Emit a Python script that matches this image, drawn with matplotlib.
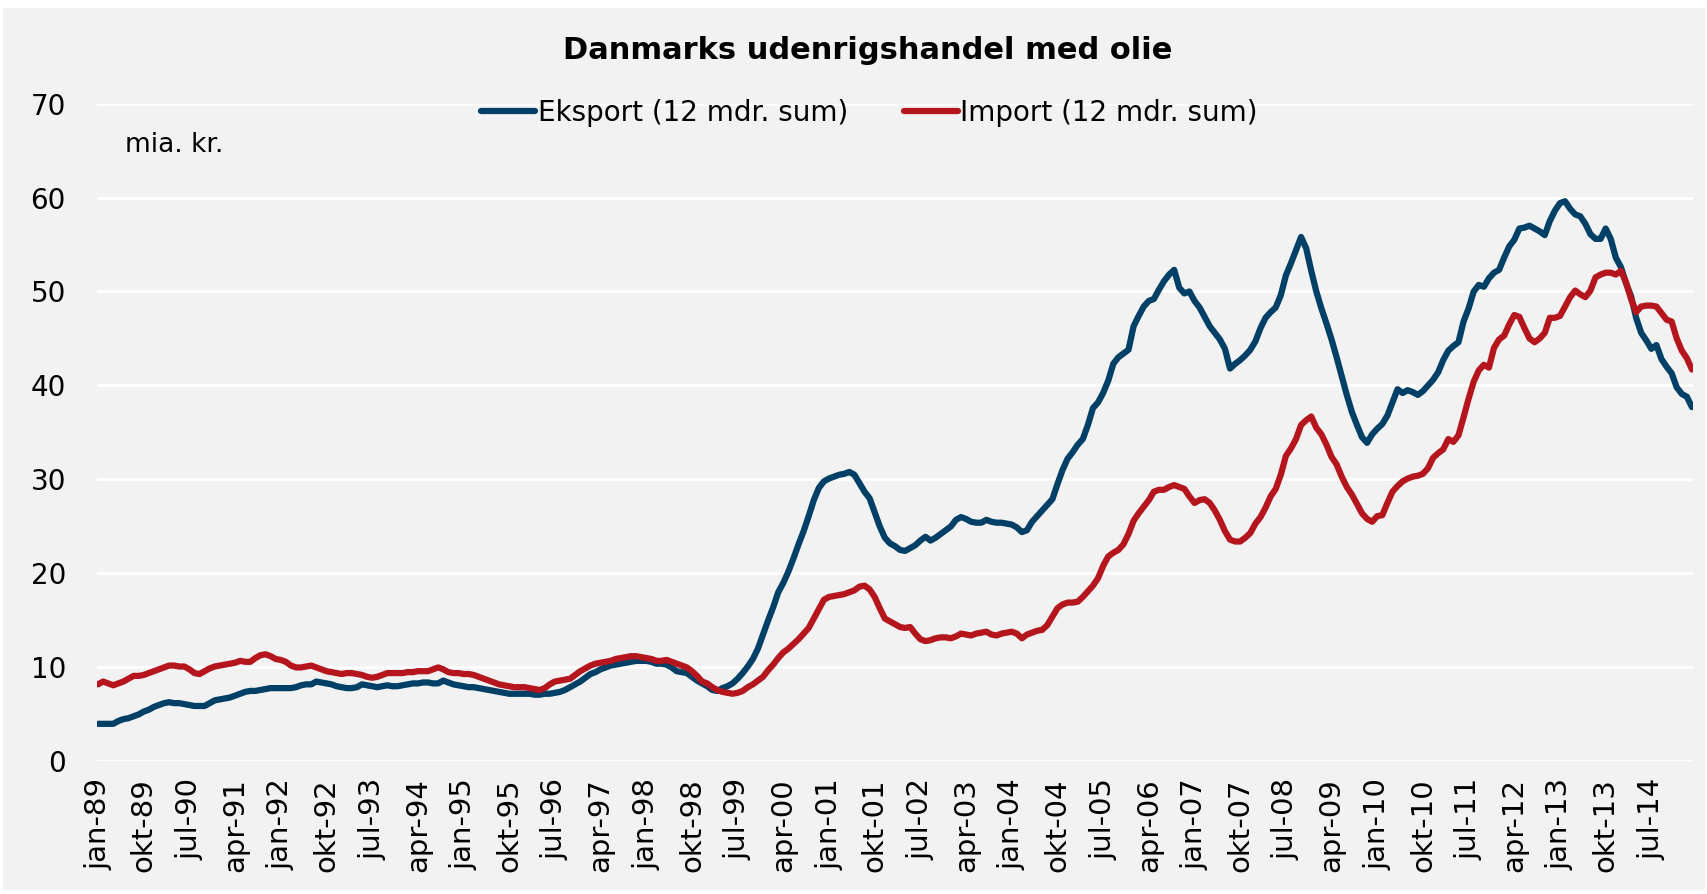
import numpy as np
import pandas as pd
import matplotlib.pyplot as plt
from matplotlib.patches import Rectangle

# 12 mdr. sum, mia. kr., monthly from jan-89
eksport = [
    4.0, 4.0, 4.0, 4.0, 4.3, 4.5, 4.6, 4.8, 5.0, 5.3, 5.5, 5.8,
    6.0, 6.2, 6.3, 6.2, 6.2, 6.1, 6.0, 5.9, 5.9, 5.9, 6.2, 6.5,
    6.6, 6.7, 6.8, 7.0, 7.2, 7.4, 7.5, 7.5, 7.6, 7.7, 7.8, 7.8,
    7.8, 7.8, 7.8, 7.9, 8.1, 8.2, 8.2, 8.5, 8.4, 8.3, 8.2, 8.0,
    7.9, 7.8, 7.8, 7.9, 8.2, 8.1, 8.0, 7.9, 8.0, 8.1, 8.0, 8.0,
    8.1, 8.2, 8.3, 8.3, 8.4, 8.4, 8.3, 8.3, 8.6, 8.4, 8.2, 8.1,
    8.0, 7.9, 7.9, 7.8, 7.7, 7.6, 7.5, 7.4, 7.3, 7.2, 7.2, 7.2,
    7.2, 7.2, 7.1, 7.1, 7.2, 7.2, 7.3, 7.4, 7.6, 7.9, 8.2, 8.5,
    8.9, 9.3, 9.5, 9.8, 10.0, 10.2, 10.3, 10.4, 10.5, 10.6, 10.7, 10.7,
    10.7, 10.6, 10.4, 10.4, 10.3, 10.0, 9.6, 9.5, 9.4, 9.0, 8.6, 8.3,
    8.0, 7.6, 7.5, 7.8, 8.0, 8.3, 8.8, 9.4, 10.1, 10.9, 12.0, 13.5,
    15.0, 16.4, 18.0, 19.0, 20.2, 21.6, 23.1, 24.5, 26.1, 27.8, 29.1, 29.8,
    30.1, 30.3, 30.5, 30.6, 30.8, 30.5, 29.6, 28.7, 28.0, 26.5, 25.0, 23.8,
    23.2, 22.9, 22.5, 22.4, 22.7, 23.0, 23.5, 23.9, 23.5, 23.8, 24.2, 24.6,
    25.0, 25.7, 26.0, 25.8, 25.5, 25.4, 25.4, 25.7, 25.5, 25.4, 25.4, 25.3,
    25.2, 24.9, 24.4, 24.6, 25.5, 26.1, 26.7, 27.3, 27.9, 29.5, 31.0, 32.2,
    32.9, 33.7, 34.3, 35.8, 37.6, 38.2, 39.2, 40.5, 42.3, 43.0, 43.4, 43.8,
    46.3, 47.4, 48.4, 49.0, 49.2, 50.2, 51.1, 51.8, 52.3, 50.4, 49.8, 50.0,
    49.0, 48.3, 47.3, 46.3, 45.6, 44.9, 43.9, 41.8, 42.3, 42.7, 43.2, 43.8,
    44.7, 46.1, 47.2, 47.8, 48.3, 49.6, 51.7, 53.0, 54.4, 55.8, 54.6, 52.2,
    50.0, 48.2, 46.6, 44.9, 43.0, 41.0, 39.0, 37.2, 35.8, 34.5, 33.9, 34.8,
    35.4, 35.9, 36.8, 38.2, 39.6, 39.2, 39.5, 39.3, 39.0, 39.4, 40.0, 40.6,
    41.4, 42.7, 43.7, 44.2, 44.6, 46.8, 48.2, 50.0, 50.7, 50.5, 51.4, 52.0,
    52.3, 53.6, 54.8, 55.5, 56.7, 56.8, 57.0, 56.7, 56.4, 56.0, 57.5, 58.6,
    59.4, 59.6, 58.8, 58.2, 58.0, 57.2, 56.1, 55.6, 55.6, 56.7, 55.6, 53.6,
    52.6, 50.9, 49.5, 47.2, 45.6, 44.8, 43.9, 44.3, 42.8, 42.0, 41.3, 39.8,
    39.1, 38.8, 37.7,
]

importen = [
    8.2, 8.5, 8.3, 8.1, 8.3, 8.5, 8.8, 9.1, 9.1, 9.2, 9.4, 9.6,
    9.8, 10.0, 10.2, 10.2, 10.1, 10.1, 9.8, 9.4, 9.3, 9.6, 9.9, 10.1,
    10.2, 10.3, 10.4, 10.5, 10.7, 10.6, 10.6, 11.0, 11.3, 11.4, 11.2, 10.9,
    10.8, 10.6, 10.2, 10.0, 10.0, 10.1, 10.2, 10.0, 9.8, 9.6, 9.5, 9.4,
    9.3, 9.4, 9.4, 9.3, 9.2, 9.0, 8.9, 9.0, 9.2, 9.4, 9.4, 9.4,
    9.4, 9.5, 9.5, 9.6, 9.6, 9.6, 9.8, 10.0, 9.8, 9.5, 9.4, 9.4,
    9.3, 9.3, 9.2, 9.0, 8.8, 8.6, 8.4, 8.2, 8.1, 8.0, 7.9, 7.9,
    7.9, 7.8, 7.7, 7.6, 7.8, 8.2, 8.5, 8.6, 8.7, 8.8, 9.2, 9.6,
    9.9, 10.2, 10.4, 10.5, 10.6, 10.7, 10.9, 11.0, 11.1, 11.2, 11.2, 11.1,
    11.0, 10.9, 10.7, 10.7, 10.8, 10.6, 10.4, 10.2, 10.0, 9.6, 9.1, 8.5,
    8.3, 7.9, 7.6, 7.4, 7.3, 7.2, 7.3, 7.5, 7.9, 8.2, 8.6, 9.0,
    9.7, 10.3, 11.0, 11.6, 12.0, 12.5, 13.0, 13.6, 14.2, 15.2, 16.2, 17.2,
    17.5, 17.6, 17.7, 17.8, 18.0, 18.2, 18.6, 18.7, 18.3, 17.5, 16.3, 15.2,
    14.9, 14.6, 14.3, 14.2, 14.3, 13.6, 13.0, 12.8, 12.9, 13.1, 13.2, 13.2,
    13.1, 13.3, 13.6, 13.5, 13.4, 13.6, 13.7, 13.8, 13.5, 13.4, 13.6, 13.7,
    13.8, 13.6, 13.1, 13.5, 13.7, 13.9, 14.0, 14.5, 15.4, 16.3, 16.7, 16.9,
    16.9, 17.0, 17.5, 18.1, 18.7, 19.5, 20.8, 21.8, 22.2, 22.5, 23.1, 24.2,
    25.6, 26.4, 27.1, 27.8, 28.7, 28.9, 28.9, 29.2, 29.4, 29.2, 29.0, 28.2,
    27.5, 27.8, 27.9, 27.5, 26.7, 25.7, 24.5, 23.6, 23.4, 23.4, 23.8, 24.3,
    25.3, 26.0, 27.0, 28.2, 29.0, 30.5, 32.5, 33.3, 34.3, 35.8, 36.3, 36.7,
    35.5, 34.8, 33.7, 32.4, 31.6, 30.3, 29.2, 28.4, 27.4, 26.4, 25.8, 25.5,
    26.1, 26.2, 27.5, 28.7, 29.3, 29.8, 30.1, 30.3, 30.4, 30.6, 31.2, 32.3,
    32.8, 33.2, 34.3, 34.0, 34.7, 36.6, 38.6, 40.4, 41.6, 42.2, 41.9, 44.0,
    44.9, 45.3, 46.5, 47.5, 47.3, 46.1, 45.0, 44.6, 45.0, 45.6, 47.2, 47.2,
    47.4, 48.4, 49.4, 50.1, 49.7, 49.4, 50.1, 51.5, 51.8, 52.0, 52.0, 51.8,
    52.2, 51.0, 49.2, 47.8, 48.4, 48.5, 48.5, 48.4, 47.7, 47.0, 46.8, 45.0,
    43.7, 42.9, 41.7,
]

maaneder = ['jan', 'feb', 'mar', 'apr', 'maj', 'jun', 'jul', 'aug', 'sep', 'okt', 'nov', 'dec']
datoer = pd.date_range('1989-01-01', periods=len(eksport), freq='MS')
x = np.arange(len(eksport))

blaa = '#003f66'
roed = '#b5161e'
bg = '#f2f2f2'

plt.rcParams['font.family'] = ['DejaVu Sans']

fig = plt.figure(figsize=(17.08, 8.94), dpi=100)
fig.patch.set_facecolor('white')
fig.patches.append(Rectangle((0.002, 0.004), 0.996, 0.987, transform=fig.transFigure,
                             facecolor=bg, edgecolor='none', zorder=-10))

ax = fig.add_axes([0.0565, 0.1483, 0.935, 0.7359])
ax.set_facecolor(bg)

ax.plot(x, eksport, color=blaa, lw=4.5, label='Eksport (12 mdr. sum)', solid_capstyle='round')
ax.plot(x, importen, color=roed, lw=4.5, label='Import (12 mdr. sum)', solid_capstyle='round')

ax.set_ylim(0, 70)
ax.set_yticks(range(0, 71, 10))
ax.set_xlim(-0.3, len(eksport) - 1 + 0.3)
tick_pos = x[::9]
ax.set_xticks(tick_pos)
ax.set_xticklabels([f'{maaneder[datoer[i].month - 1]}-{datoer[i].year % 100:02d}' for i in tick_pos],
                   rotation=90)
ax.grid(axis='y', color='white', lw=2)
ax.set_axisbelow(True)
for s in ax.spines.values():
    s.set_visible(False)
ax.tick_params(axis='y', length=0, pad=22, labelsize=20)
ax.tick_params(axis='x', length=0, pad=12, labelsize=21)

fig.text(0.508, 0.944, 'Danmarks udenrigshandel med olie', ha='center', va='center',
         fontsize=22, fontweight='bold')
fig.text(0.073, 0.838, 'mia. kr.', ha='left', va='center', fontsize=19)

fig.legend(loc='center', bbox_to_anchor=(0.509, 0.874), ncol=2, frameon=False, fontsize=20,
           handlelength=1.95, handletextpad=0.1, columnspacing=2.0)

fig.savefig('out.png', dpi=100, facecolor=fig.get_facecolor())
